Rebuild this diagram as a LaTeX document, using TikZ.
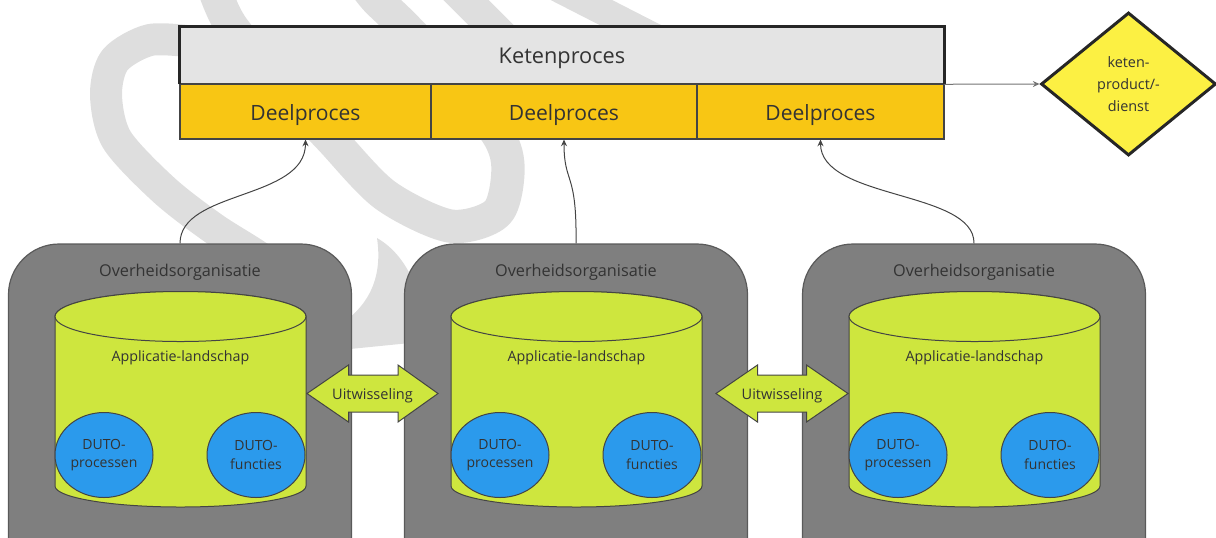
\documentclass[tikz,border=0pt]{standalone}
\usepackage{fontspec}
\setmainfont{Open Sans}
\usetikzlibrary{arrows.meta,shapes.geometric}
\definecolor{wm}{HTML}{DEDEDE}
\definecolor{ketgrey}{HTML}{E4E4E4}
\definecolor{deelfill}{HTML}{F8C614}
\definecolor{prodfill}{HTML}{FCF043}
\definecolor{orgfill}{HTML}{7F7F7F}
\definecolor{orgline}{HTML}{5A5A5A}
\definecolor{cylfill}{HTML}{CEE63E}
\definecolor{bluefill}{HTML}{2B9AEC}
\definecolor{txtc}{HTML}{333333}
\definecolor{linec}{HTML}{444444}
\begin{document}
\begin{tikzpicture}[x=0.75pt,y=-0.75pt,
  band/.style={draw=wm,line width=#1,line cap=round,line join=round},
  ket/.style={fill=ketgrey,minimum width=573pt,minimum height=42.75pt,inner sep=0pt,text height=11.7pt,text depth=0pt,text=txtc,font=\fontsize{16.3}{19}\selectfont},
  deel/.style={draw=linec,line width=0.8pt,fill=deelfill,minimum height=41.25pt,inner sep=0pt,text height=12.8pt,text depth=0pt,text=txtc,font=\fontsize{15.8}{18}\selectfont},
  prod/.style={shape=diamond,draw=black!85,line width=2.25pt,fill=prodfill,minimum width=131.25pt,minimum height=107.25pt,inner sep=0pt,align=center,text=txtc,font=\fontsize{10.8}{16.5}\selectfont},
  org/.style={draw=orgline,line width=0.9pt,fill=orgfill,rounded corners=38pt,minimum width=257.25pt,minimum height=270pt,inner sep=0pt},
  orgtitle/.style={text=txtc,inner sep=0pt,font=\fontsize{12.2}{14}\selectfont},
  cyl/.style={draw=linec,line width=0.75pt,fill=cylfill},
  apptxt/.style={text=txtc,inner sep=0pt,font=\fontsize{10.7}{12}\selectfont},
  duto/.style={ellipse,draw=linec,line width=0.75pt,fill=bluefill,minimum width=73.5pt,minimum height=63.75pt,inner sep=0pt,align=center,text=txtc,font=\fontsize{10.5}{13.7}\selectfont},
  uit/.style={draw=linec,line width=0.75pt,fill=cylfill,line join=miter},
  uittxt/.style={text=txtc,inner sep=0pt,font=\fontsize{10.9}{13}\selectfont},
  link/.style={draw=linec,line width=0.75pt,-{Stealth[length=5pt,width=4.5pt]}}
]
\useasboundingbox (0,0) rectangle (1216,537);
\clip (0,0) rectangle (1216,537);
% watermark swirl
\draw[band=24pt] plot[smooth] coordinates {(195,42) (150,40) (115,60) (106,95) (117,140) (164,190) (213,228) (260,258) (300,290)};
\draw[band=25pt] plot[smooth] coordinates {(213,-15) (232,27) (290,95) (331,139) (385,195) (450,226) (497,213) (508,170) (498,135) (450,75) (405,27) (377,0) (365,-15)};
\draw[band=24pt] (451,-15) -- (530,64);
\draw[band=21pt] (552,-15) -- (689,55);
\fill[wm] (377,238) .. controls (398,250) and (412,272) .. (420,300) -- (420,342) -- (340,350) -- (340,325) .. controls (362,310) and (384,285) .. (377,238) -- cycle;
% chain process
\node[ket] (kp) at (562,55.5) {Ketenproces};
\node[deel,minimum width=188.25pt] (d1) at (305.5,111.5) {Deelproces};
\node[deel,minimum width=199.5pt] (d2) at (564,111.5) {Deelproces};
\node[deel,minimum width=185.25pt] (d3) at (820.5,111.5) {Deelproces};
\draw[line width=2.25pt,draw=black!85] (kp.south west) -- (kp.north west) -- (kp.north east) -- (kp.south east);
\node[prod] (prod) at (1128.5,84) {keten-\\product/-\\dienst};
\draw[link,draw=black!55] (kp.south east) -- (prod.west);
% organisations
\foreach \o/\n in {0/1,396/2,794/3} {
  \node[org] (org\n) at ({180+\o},424) {};
  \node[orgtitle] (ot\n) at ({180+\o},272.5) {Overheidsorganisatie};
  \path[cyl] ({55+\o},316.5) -- ({55+\o},486) arc[start angle=180,end angle=0,x radius=125.5,y radius=21] -- ({306+\o},316.5) arc[start angle=0,end angle=-180,x radius=125.5,y radius=25] -- cycle;
  \draw[cyl] ({180.5+\o},316.5) ellipse[x radius=125.5,y radius=25];
  \node[apptxt] (app\n) at ({180.5+\o},358) {Applicatie-landschap};
  \node[duto] (dp\n) at ({104+\o},455) {DUTO-\\processen};
  \node[duto] (df\n) at ({256+\o},455) {DUTO-\\functies};
}
% exchanges
\filldraw[uit] (307,393.5) -- (348.5,365) -- (348.5,375) -- (398,375) -- (398,365) -- (438,393.5) -- (398,422) -- (398,412) -- (348.5,412) -- (348.5,422) -- cycle;
\node[uittxt] (uit1) at (372.5,396) {Uitwisseling};
\filldraw[uit] (716,393.5) -- (757.5,365) -- (757.5,375) -- (806.5,375) -- (806.5,365) -- (848,393.5) -- (806.5,422) -- (806.5,412) -- (757.5,412) -- (757.5,422) -- cycle;
\node[uittxt] (uit2) at (782,396) {Uitwisseling};
% connectors
\draw[link] (org1.north) .. controls (180,190) and (305.5,200) .. (d1.south);
\draw[link] (org2.north) .. controls (577,170) and (564,185) .. (d2.south);
\draw[link] (org3.north) .. controls (974.5,190) and (820.5,200) .. (d3.south);
\end{tikzpicture}
\end{document}
